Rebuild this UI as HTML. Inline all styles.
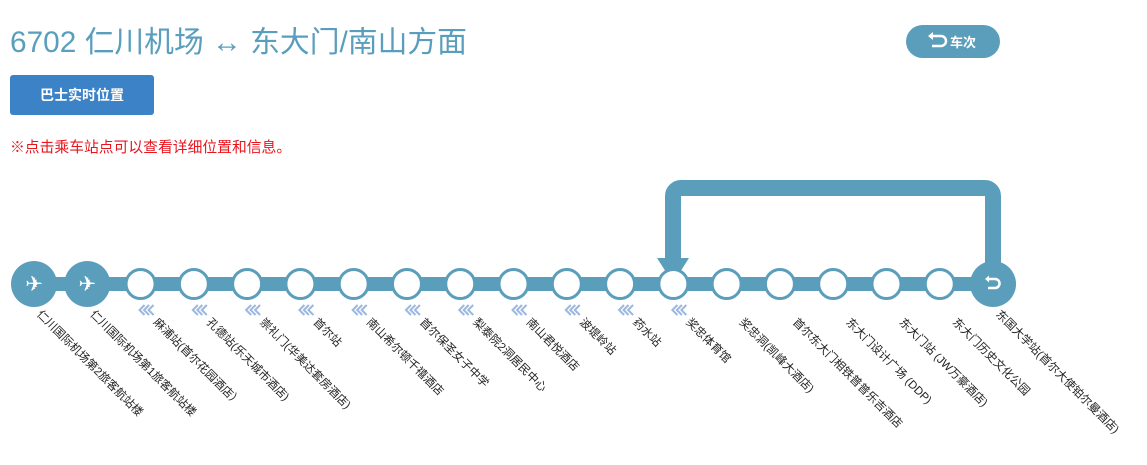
<!DOCTYPE html>
<html><head><meta charset="utf-8"><style>
body{margin:0;width:1147px;height:465px;background:#fff;overflow:hidden;font-family:"Liberation Sans","Noto Sans CJK SC",sans-serif;}
svg{position:absolute;left:0;top:0}
</style></head><body>
<svg width="1147" height="465" viewBox="0 0 1147 465" font-family="Liberation Sans, Noto Sans CJK SC, sans-serif">
<text x="10" y="52" font-size="29.8" fill="#5a9ebd">6702 仁川机场 ↔ 东大门/南山方面</text>
<rect x="906" y="25" width="94" height="33" rx="16.5" fill="#5b9ebc"/>
<path d="M931 36 h10 a5 5 0 0 1 0 10 h-9" stroke="#fff" stroke-width="2.5" fill="none"/>
<path d="M928 36 l5 -4 v8 z" fill="#fff"/>
<text x="950" y="47" font-size="13" fill="#fff" font-weight="bold">车次</text>
<rect x="10" y="75" width="144" height="40" rx="3" fill="#3b82c6"/>
<text x="82" y="100" font-size="14" fill="#fff" text-anchor="middle" font-weight="bold">巴士实时位置</text>
<text x="10" y="152" font-size="14.8" fill="#e8141e">※点击乘车站点可以查看详细位置和信息。</text>
<path d="M993 284 V196 a8 8 0 0 0 -8 -8 H681 a8 8 0 0 0 -8 8 V262" stroke="#5b9ebc" stroke-width="16" fill="none"/>
<path d="M657 258 H689 L673 283 Z" fill="#5b9ebc"/>
<rect x="34" y="277" width="960" height="14" fill="#5b9ebc"/>
<g id="st"></g>
</svg>
<script>
var names=["仁川国际机场第2旅客航站楼","仁川国际机场第1旅客航站楼","麻浦站(首尔花园酒店）","孔德站(乐天城市酒店)","崇礼门(华美达套房酒店)","首尔站","南山希尔顿千禧酒店","首尔保圣女子中学","梨泰院2洞居民中心","南山君悦酒店","波堤岭站","药水站","奖忠体育馆","奖忠洞(凯峰大酒店)","首尔东大门相铁普普乐吉酒店","东大门设计广场 (DDP)","东大门站 (JW万豪酒店)","东大门历史文化公园","东国大学站(首尔大使铂尔曼酒店)"];
var g=document.getElementById('st'),s='';
for(var i=0;i<19;i++){var cx=34+i*53.28;
if(i<2||i==18){s+='<circle cx="'+cx+'" cy="284" r="23" fill="#5b9ebc"/>';}
else{s+='<circle cx="'+cx+'" cy="284" r="14.5" fill="#fff" stroke="#5b9ebc" stroke-width="3"/>';}
if(i<2){s+='<text x="'+cx+'" y="291" font-size="21" fill="#fff" text-anchor="middle" font-family="DejaVu Sans">✈</text>';}
if(i==18){s+='<path d="M'+(cx-5)+' 279 h7 a4.5 4.5 0 0 1 0 9 h-7" stroke="#fff" stroke-width="2.5" fill="none"/><path d="M'+(cx-8)+' 279 l4 -3.5 v7 z" fill="#fff"/>';}
if(i>=2&&i<=12){var p='';for(var k=0;k<3;k++){var x0=cx-1+k*4.5;p+='M'+(x0+5)+' 305 L'+x0+' 310 L'+(x0+5)+' 315 ';}
s+='<path d="'+p+'" stroke="#9bb8e0" stroke-width="2" fill="none"/>';}
var lx=(i<2||i==18)?cx+5:cx+15, ly=(i<2||i==18)?312:320;
s+='<text transform="translate('+lx+','+ly+') rotate(45)" x="0" y="4" font-size="11.5" fill="#222">'+names[i]+'</text>';}
g.innerHTML=s;
</script>
</body></html>
